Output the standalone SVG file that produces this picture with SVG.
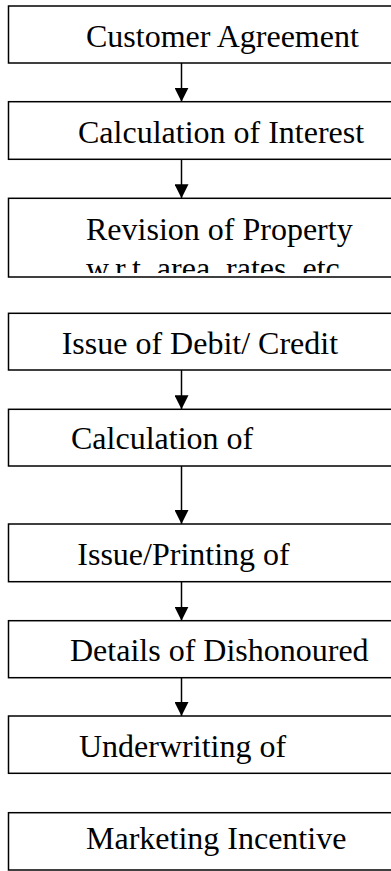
<svg xmlns="http://www.w3.org/2000/svg" width="391" height="871" viewBox="0 0 391 871">
<style>
.box{fill:#fff;stroke:#000;stroke-width:1.5}
.t{font-family:"Liberation Serif","Times New Roman",serif;font-size:32px;fill:#000}
.c{stroke:#000;stroke-width:1.5;fill:none}
</style>
<defs>
<marker id="ah" viewBox="0 0 14 14" refX="14" refY="7" markerWidth="14" markerHeight="14" markerUnits="userSpaceOnUse" orient="auto">
<path d="M0,0 L14,7 L0,14 Z" fill="#000"/>
</marker>
<clipPath id="clip3"><rect x="8" y="199" width="400" height="74"/></clipPath>
</defs>
<g id="n1"><rect class="box" x="8.5" y="6" width="400" height="57"/><text class="t" x="86" y="46.5">Customer Agreement</text></g>
<g id="n2"><rect class="box" x="8.5" y="101.7" width="400" height="57.6"/><text class="t" x="78" y="143">Calculation of Interest</text></g>
<g id="n3"><rect class="box" x="8.5" y="198.3" width="400" height="78.7"/><g clip-path="url(#clip3)"><text class="t" x="86" y="240">Revision of Property</text><text class="t" x="86" y="278.5">w.r.t. area, rates, etc.</text></g></g>
<g id="n4"><rect class="box" x="8.5" y="313.3" width="400" height="56.7"/><text class="t" x="61.7" y="354">Issue of Debit/ Credit</text></g>
<g id="n5"><rect class="box" x="8.5" y="409.3" width="400" height="56.7"/><text class="t" x="71" y="449.3">Calculation of</text></g>
<g id="n6"><rect class="box" x="8.5" y="524" width="400" height="57.7"/><text class="t" x="77.3" y="565">Issue/Printing of</text></g>
<g id="n7"><rect class="box" x="8.5" y="620.7" width="400" height="57"/><text class="t" x="70" y="661">Details of Dishonoured</text></g>
<g id="n8"><rect class="box" x="8.5" y="716" width="400" height="57.3"/><text class="t" x="79" y="756.7">Underwriting of</text></g>
<g id="n9"><rect class="box" x="8.5" y="812.7" width="400" height="57.3"/><text class="t" x="86" y="849.3">Marketing Incentive</text></g>
<g id="connectors">
<line class="c" x1="181.5" y1="63" x2="181.5" y2="101.7" marker-end="url(#ah)"/>
<line class="c" x1="181.5" y1="159.3" x2="181.5" y2="198.3" marker-end="url(#ah)"/>
<line class="c" x1="181.5" y1="370" x2="181.5" y2="409.3" marker-end="url(#ah)"/>
<line class="c" x1="181.5" y1="466" x2="181.5" y2="524" marker-end="url(#ah)"/>
<line class="c" x1="181.5" y1="581.7" x2="181.5" y2="620.7" marker-end="url(#ah)"/>
<line class="c" x1="181.5" y1="677.7" x2="181.5" y2="716" marker-end="url(#ah)"/>
</g>
</svg>
